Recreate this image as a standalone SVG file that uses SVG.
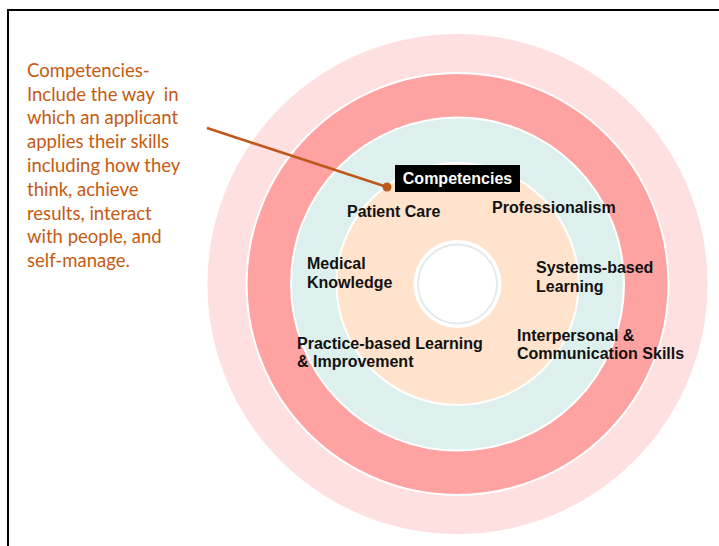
<svg xmlns="http://www.w3.org/2000/svg" width="719" height="546" viewBox="0 0 719 546">
<style>
.ring{stroke:#ffffff;stroke-width:2}
.lbl{font-family:"Liberation Sans",Arial,sans-serif;font-weight:bold;font-size:16px;fill:#111111}
.note{font-family:Lato,"Liberation Sans",sans-serif;font-size:18.5px;fill:#C55A11}
</style>
<rect width="719" height="546" fill="#ffffff"/>
<g id="frame" fill="none" stroke="#000000" stroke-width="2">
<line x1="7" y1="10" x2="719" y2="10"/>
<line x1="8" y1="9" x2="8" y2="546"/>
</g>
<g id="rings">
<circle class="ring" cx="457.5" cy="284" r="251" fill="#FFE0E1"/>
<circle class="ring" cx="457.5" cy="284" r="211" fill="#FFA2A2"/>
<circle class="ring" cx="457.5" cy="284" r="166.5" fill="#DDF0EE"/>
<circle class="ring" cx="457.5" cy="284" r="121" fill="#FFE3CC"/>
<circle cx="457.5" cy="284" r="44" fill="#ffffff"/>
<circle cx="457.5" cy="284" r="39.5" fill="#ffffff" stroke="#E3E8EA" stroke-width="1.8"/>
</g>
<g id="connectors">
<line x1="207" y1="128" x2="387" y2="187" stroke="#C0571A" stroke-width="2.5"/>
<circle cx="387" cy="187" r="4.5" fill="#C0571A"/>
</g>
<g id="note">
<text class="note" x="27" y="77">Competencies-</text>
<text class="note" x="27" y="101" xml:space="preserve">Include the way  in</text>
<text class="note" x="27" y="124">which an applicant</text>
<text class="note" x="27" y="148">applies their skills</text>
<text class="note" x="27" y="172">including how they</text>
<text class="note" x="27" y="196">think, achieve</text>
<text class="note" x="27" y="220">results, interact</text>
<text class="note" x="27" y="243">with people, and</text>
<text class="note" x="27" y="267">self-manage.</text>
</g>
<g id="title">
<rect x="395" y="165" width="125" height="27" fill="#000000"/>
<text x="457.5" y="184" text-anchor="middle" style="font-family:'Liberation Sans',Arial,sans-serif;font-weight:bold;font-size:16px;fill:#ffffff">Competencies</text>
</g>
<g id="patient-care"><text class="lbl" x="347" y="217">Patient Care</text></g>
<g id="professionalism"><text class="lbl" x="492" y="213">Professionalism</text></g>
<g id="medical-knowledge"><text class="lbl" x="307" y="269">Medical</text><text class="lbl" x="307" y="288">Knowledge</text></g>
<g id="systems-based"><text class="lbl" x="536" y="273">Systems-based</text><text class="lbl" x="536" y="292">Learning</text></g>
<g id="practice-based"><text class="lbl" x="297" y="349">Practice-based Learning</text><text class="lbl" x="297" y="367">&amp; Improvement</text></g>
<g id="interpersonal"><text class="lbl" x="517" y="341">Interpersonal &amp;</text><text class="lbl" x="517" y="359">Communication Skills</text></g>
</svg>
